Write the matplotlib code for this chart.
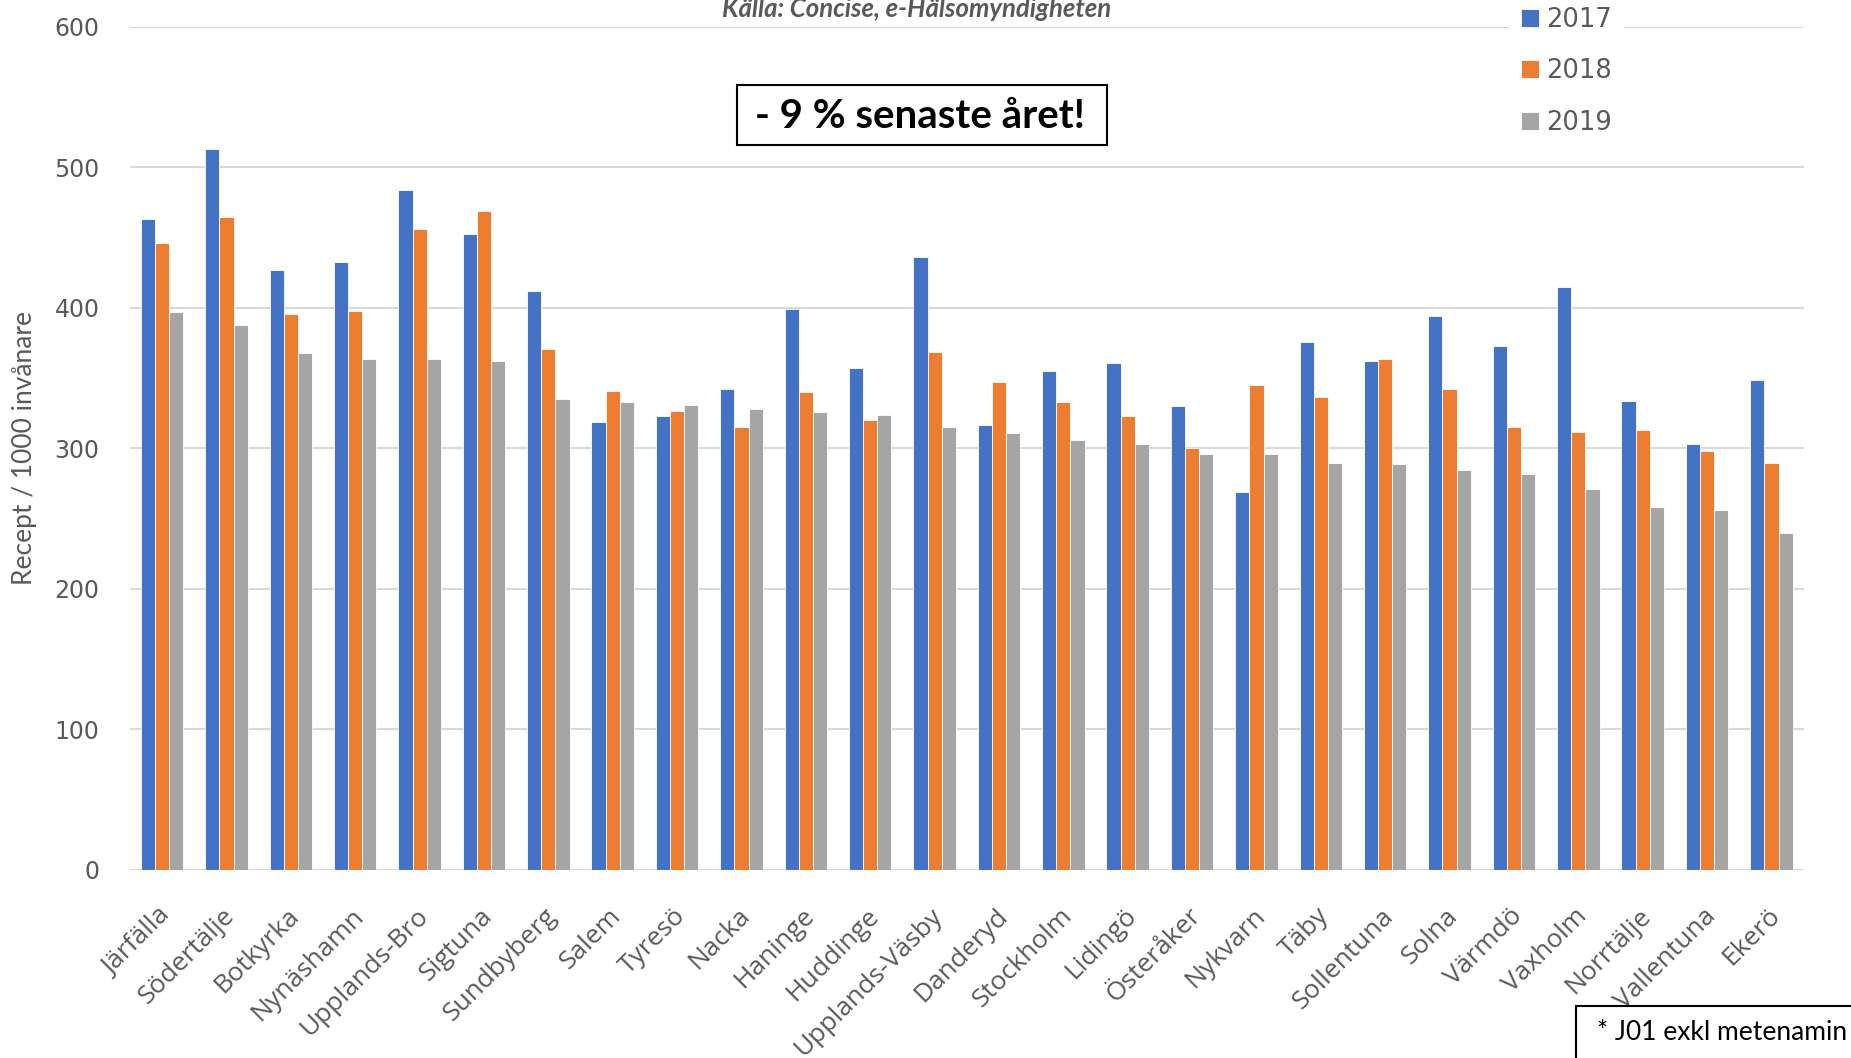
import numpy as np
import matplotlib
matplotlib.use("Agg")
import matplotlib.pyplot as plt
from matplotlib.patches import Rectangle
from matplotlib.transforms import ScaledTranslation

kommuner = ["Järfälla", "Södertälje", "Botkyrka", "Nynäshamn", "Upplands-Bro", "Sigtuna",
            "Sundbyberg", "Salem", "Tyresö", "Nacka", "Haninge", "Huddinge", "Upplands-Väsby",
            "Danderyd", "Stockholm", "Lidingö", "Österåker", "Nykvarn", "Täby", "Sollentuna",
            "Solna", "Värmdö", "Vaxholm", "Norrtälje", "Vallentuna", "Ekerö"]
v2017 = [463, 513, 427, 433, 484, 453, 412, 319, 323, 342, 399, 357, 436,
         317, 355, 361, 330, 269, 376, 362, 394, 373, 415, 334, 303, 349]
v2018 = [446, 465, 396, 398, 456, 469, 371, 341, 327, 315, 340, 320, 369,
         347, 333, 323, 300, 345, 337, 364, 342, 315, 312, 313, 298, 290]
v2019 = [397, 388, 368, 364, 364, 362, 335, 333, 331, 328, 326, 324, 315,
         311, 306, 303, 296, 296, 290, 289, 285, 282, 271, 258, 256, 240]
years = ["2017", "2018", "2019"]
colors = ["#4472C4", "#ED7D31", "#A5A5A5"]

grey = "#595959"

fig = plt.figure(figsize=(18.51, 10.58), dpi=100)
ax = fig.add_axes([0.0702, 0.1777, 0.9042, 0.7968])

x = np.arange(len(kommuner))
w = 0.22
for i, (vals, lab, c) in enumerate(zip([v2017, v2018, v2019], years, colors)):
    ax.bar(x + (i - 1) * w, vals, width=w, color=c, label=lab,
           edgecolor="white", linewidth=0.6, zorder=3)

ax.set_xlim(-0.5, len(kommuner) - 0.5)
ax.set_ylim(0, 600)
ax.set_yticks(range(0, 601, 100))
ax.grid(axis="y", color="#D9D9D9", linewidth=1.5, zorder=0)
for s in ax.spines.values():
    s.set_visible(False)
ax.tick_params(axis="both", length=0)
ax.tick_params(axis="y", labelsize=17, labelcolor=grey, pad=22)
ax.set_xticks(x)
ax.set_xticklabels(kommuner, rotation=45, ha="right", rotation_mode="anchor",
                   fontsize=19, color=grey, family="Open Sans")
ax.tick_params(axis="x", pad=24)
shift = ScaledTranslation(-0.04, 0, fig.dpi_scale_trans)
for t in ax.get_xticklabels():
    t.set_transform(t.get_transform() + shift)
ax.set_ylabel("Recept / 1000 invånare", fontsize=19, color=grey, family="Lato", labelpad=12)

leg = ax.legend(loc="upper left", bbox_to_anchor=(1509 / 1851, 1 + 5 / 1058),
                bbox_transform=fig.transFigure,
                frameon=True, facecolor="white", edgecolor="none", framealpha=1,
                fontsize=18.5, labelcolor=grey, handlelength=0.7, handleheight=0.7,
                handletextpad=0.3, labelspacing=1.0, borderpad=0.45, borderaxespad=0)
leg.set_zorder(5)

fig.text(917 / 1851, 1 - 17 / 1058, "Källa: Concise, e-Hälsomyndigheten", ha="center",
         va="baseline", fontsize=18.5, fontweight="bold", fontstyle="italic", color=grey,
         family="Lato")

fig.patches.append(Rectangle((737 / 1851, 1 - 145 / 1058), 370 / 1851, 60 / 1058,
                             transform=fig.transFigure, facecolor="white",
                             edgecolor="black", linewidth=1.5, zorder=6))
fig.text(920 / 1851, 1 - 116 / 1058, "- 9 % senaste året!", ha="center", va="center",
         fontsize=29, fontweight="bold", color="black", family="Lato", zorder=7)

fig.patches.append(Rectangle((1576 / 1851, 1 - 1070 / 1058), 300 / 1851, 64 / 1058,
                             transform=fig.transFigure, facecolor="white",
                             edgecolor="black", linewidth=1.5, zorder=6))
fig.text(1597 / 1851, 1 - 1032 / 1058, "* J01 exkl metenamin", ha="left", va="center",
         fontsize=19, color="black", family="Lato", zorder=7)

fig.savefig("out.png", dpi=100)
